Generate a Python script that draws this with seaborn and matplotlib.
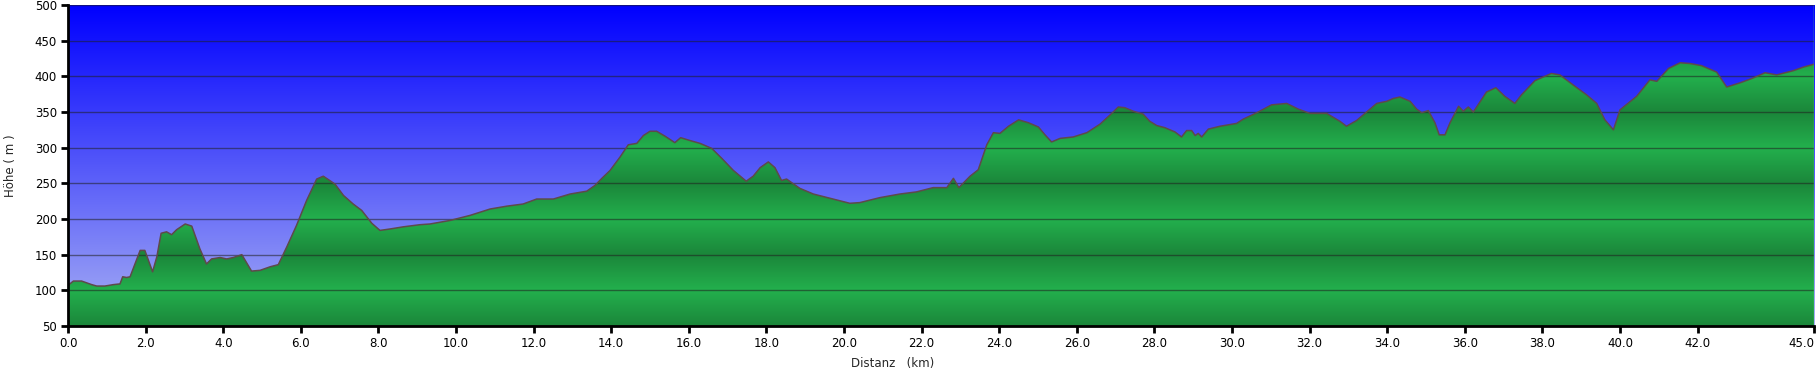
import matplotlib
matplotlib.use("Agg")
import matplotlib.pyplot as plt
import numpy as np
import pandas as pd
import seaborn as sns
from matplotlib.patches import Polygon

# elevation profile (km, m)
distance_km = [
    0.00, 0.14, 0.35, 0.61, 0.74, 0.95, 1.17, 1.34, 1.41, 1.51, 1.60, 1.86, 1.98,
    2.18, 2.29, 2.40, 2.54, 2.67, 2.80, 3.02, 3.19, 3.40, 3.57, 3.70, 3.92, 4.09,
    4.26, 4.48, 4.73, 4.95, 5.21, 5.42, 5.64, 5.89, 6.15, 6.41, 6.58, 6.88, 7.10,
    7.35, 7.57, 7.83, 8.04, 8.30, 8.64, 9.07, 9.33, 9.85, 10.36, 10.88, 11.31,
    11.73, 12.08, 12.51, 12.94, 13.37, 13.58, 13.76, 13.97, 14.23, 14.44, 14.66,
    14.83, 15.00, 15.17, 15.39, 15.64, 15.79, 16.03, 16.29, 16.59, 16.85, 17.15,
    17.48, 17.66, 17.84, 18.05, 18.22, 18.39, 18.52, 18.86, 19.21, 19.72, 20.15,
    20.41, 20.93, 21.44, 21.87, 22.30, 22.65, 22.82, 22.96, 23.25, 23.46, 23.68,
    23.85, 24.02, 24.24, 24.50, 24.75, 25.01, 25.18, 25.35, 25.57, 25.91, 26.26,
    26.60, 26.86, 27.07, 27.24, 27.46, 27.71, 27.88, 28.06, 28.27, 28.53, 28.70,
    28.83, 28.96, 29.05, 29.13, 29.22, 29.39, 29.69, 30.12, 30.29, 30.64, 31.02,
    31.41, 31.71, 32.01, 32.44, 32.78, 32.95, 33.21, 33.47, 33.73, 33.99, 34.16,
    34.33, 34.59, 34.76, 34.89, 35.06, 35.23, 35.34, 35.49, 35.62, 35.84, 35.96,
    36.09, 36.22, 36.56, 36.80, 37.03, 37.29, 37.46, 37.81, 38.23, 38.45, 38.79,
    39.14, 39.40, 39.61, 39.83, 40.00, 40.43, 40.77, 40.95, 41.25, 41.55, 41.80,
    42.10, 42.49, 42.75, 43.10, 43.40, 43.74, 44.04, 44.47, 44.73, 45.00,
]
elevation_m = [
    107, 113, 113, 108, 106, 106, 108, 109, 119, 118, 119, 156, 156,
    126, 147, 180, 182, 178, 185, 193, 190, 158, 137, 144, 146, 144,
    146, 150, 127, 128, 133, 136, 161, 191, 226, 256, 260, 249, 233,
    221, 212, 194, 184, 186, 189, 192, 193, 198, 205, 214, 218,
    221, 228, 228, 235, 239, 247, 257, 268, 287, 304, 306,
    317, 323, 323, 316, 307, 314, 310, 306, 299, 285, 268,
    253, 260, 272, 280, 272, 254, 256, 243, 235, 228, 222,
    223, 230, 235, 238, 244, 244, 257, 244, 260, 269, 304,
    321, 320, 330, 339, 335, 329, 318, 308, 313, 315, 321,
    333, 346, 357, 356, 351, 347, 337, 331, 328, 322, 315,
    324, 324, 317, 320, 315, 326, 330, 334, 340, 349, 360,
    362, 354, 348, 348, 337, 330, 338, 350, 362, 365, 369,
    371, 365, 354, 349, 352, 335, 318, 318, 335, 358, 351,
    357, 350, 378, 384, 372, 362, 374, 394, 404, 402, 388,
    374, 362, 339, 325, 353, 372, 395, 393, 411, 419, 418,
    415, 406, 385, 391, 397, 405, 402, 408, 413, 417,
]
x_ticks = [0, 2, 4, 6, 8, 10, 12, 14, 16, 18, 20, 22, 24, 26, 28, 30, 32, 34, 36, 38, 40, 42, 45]
y_ticks = [50, 100, 150, 200, 250, 300, 350, 400, 450, 500]

profile = pd.DataFrame({"Distanz": distance_km, "Höhe": elevation_m})

sns.set_style("white")
plt.rcParams["font.family"] = ["DejaVu Sans"]

W, H = 1819, 374
fig = plt.figure(figsize=(W / 100, H / 100), dpi=100)
ax = fig.add_axes([68 / W, 48 / H, 1746 / W, 321 / H])
x0, x1, y0, y1 = 0, 45, 50, 500
ax.set_xlim(x0, x1)
ax.set_ylim(y0, y1)

# sky gradient
rows = 400
t = np.linspace(0, 1, rows)[:, None]
top = np.array([0, 0, 255]) / 255
bottom = np.array([168, 176, 244]) / 255
sky = (top + t * (bottom - top))[:, None, :]
ax.imshow(sky, extent=[x0, x1, y0, y1], aspect="auto", zorder=0, interpolation="bilinear")

# banded green for the terrain, bright at every 100 m, dark at odd 50 m
levels = np.linspace(y1, y0, 900)
f = np.abs(((levels - 100) % 100) - 50) / 50
bright = np.array([35, 176, 77]) / 255
dark = np.array([27, 134, 58]) / 255
green = (dark + f[:, None] * (bright - dark))[:, None, :]
terrain = ax.imshow(green, extent=[x0, x1, y0, y1], aspect="auto", zorder=1, interpolation="bilinear")
verts = np.vstack([[distance_km[0], y0], np.column_stack([distance_km, elevation_m]), [distance_km[-1], y0]])
clip = Polygon(verts, closed=True, facecolor="none", edgecolor="none", transform=ax.transData)
ax.add_patch(clip)
terrain.set_clip_path(clip)

sns.lineplot(data=profile, x="Distanz", y="Höhe", ax=ax, color="#5e4a4a", lw=1.1, zorder=4)

ax.set_axisbelow(False)
ax.yaxis.grid(True, color="#202020", alpha=0.55, lw=1)
ax.xaxis.grid(False)
ax.axvline(45, color="#55dd55", lw=1, zorder=5)

ax.set_xticks(x_ticks)
ax.set_xticklabels([f"{v:.1f}" for v in x_ticks])
ax.set_yticks(y_ticks)
ax.set_yticklabels([str(v) for v in y_ticks])
ax.get_xticklabels()[-1].set_ha("right")
ax.tick_params(axis="both", direction="out", length=5, width=2, color="black",
               labelsize=8.5, labelcolor="black", pad=3,
               bottom=True, left=True)

for side in ["top", "right"]:
    ax.spines[side].set_visible(False)
for side in ["left", "bottom"]:
    ax.spines[side].set_color("black")
    ax.spines[side].set_linewidth(2)
    ax.spines[side].set_zorder(6)

ax.set_xlabel("")
ax.set_ylabel("")
fig.text(893 / W, 1 - 363 / H, "Distanz   (km)", ha="center", va="center", fontsize=8.5)
fig.text(11 / W, 1 - 166 / H, "Höhe ( m )", ha="center", va="center", rotation=90, fontsize=8.5)

fig.savefig("out.png", dpi=100)
